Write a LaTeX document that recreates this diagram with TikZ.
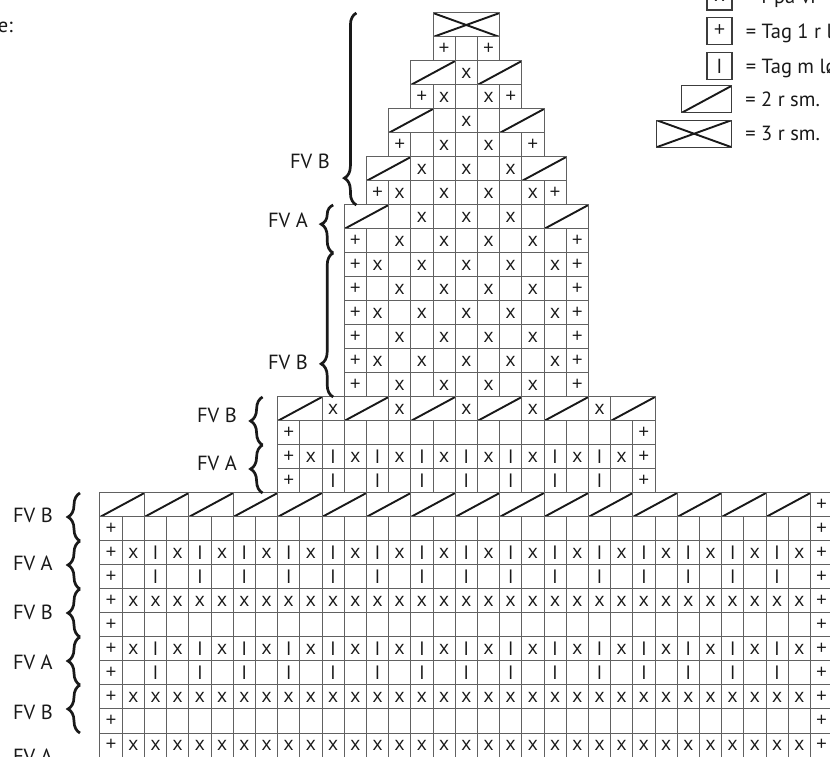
\documentclass[tikz,border=0pt]{standalone}
\usepackage{fontspec}
\setmainfont{PT Sans}
\newfontfamily\symfam{Open Sans}
\usetikzlibrary{positioning,decorations.pathreplacing}

\definecolor{gridgray}{gray}{0.38}
\definecolor{ink}{gray}{0.1}
\newcommand{\chartfont}{\symfam\fontsize{19}{19}\selectfont}
\newcommand{\lblfont}{\fontsize{20.5}{22}\selectfont}

\begin{document}
\begin{tikzpicture}[
  x=22.2pt, y=-24pt,
  slash/.style={path picture={\draw[ink,line width=1.9pt]
      (path picture bounding box.south west) -- (path picture bounding box.north east);}},
  cross/.style={path picture={\draw[ink,line width=1.9pt]
      (path picture bounding box.south west) -- (path picture bounding box.north east)
      (path picture bounding box.north west) -- (path picture bounding box.south east);}},
  cell/.style={draw=gridgray,line width=1pt,minimum width=22.2pt,minimum height=24pt,
               inner sep=0pt,outer sep=0pt,font=\chartfont,text=ink},
  dec2/.style={cell,minimum width=44.4pt,slash},
  dec3/.style={cell,minimum width=66.6pt,cross},
  brc/.style={decorate,decoration={brace,amplitude=12pt},line width=2.7pt,ink},
  fvlabel/.style={font=\lblfont,text=ink,anchor=east,inner sep=0pt,
                  text height=14.3pt,text depth=0pt},
  keybox/.style={draw=ink!85,line width=1.2pt,minimum width=25pt,minimum height=27pt,
                 inner sep=0pt,font=\symfam\fontsize{20}{20}\selectfont,text=ink},
  keytext/.style={font=\lblfont,text=ink,inner sep=0pt,text height=14.3pt,text depth=0pt},
]
\useasboundingbox (-4.5045,-20.5417) rectangle (32.8829,11);
\clip (-4.5045,-20.5417) rectangle (32.8829,11);

% ---- Bottom panel (33 sts) --------------------------------------------------
\foreach \c in {1,3,...,31}
  \node[dec2] (B1-\c) at (\c,0.5) {};
\node[cell] (B1-33) at (32.5,0.5) {+};
\foreach \r in {2,...,11}{
  \node[cell] (B\r-1)  at (0.5,\r-0.5)  {+};
  \node[cell] (B\r-33) at (32.5,\r-0.5) {+};
}
\foreach \r in {2,6,10}
  \foreach \c in {2,...,32}
    \node[cell] (B\r-\c) at (\c-0.5,\r-0.5) {};
\foreach \r in {3,7}{
  \foreach \c in {2,4,...,32} \node[cell] (B\r-\c) at (\c-0.5,\r-0.5) {x};
  \foreach \c in {3,5,...,31} \node[cell] (B\r-\c) at (\c-0.5,\r-0.5) {I};
}
\foreach \r in {4,8}{
  \foreach \c in {2,4,...,32} \node[cell] (B\r-\c) at (\c-0.5,\r-0.5) {};
  \foreach \c in {3,5,...,31} \node[cell] (B\r-\c) at (\c-0.5,\r-0.5) {I};
}
\foreach \r in {5,9,11}
  \foreach \c in {2,...,32}
    \node[cell] (B\r-\c) at (\c-0.5,\r-0.5) {x};

% ---- Middle panel (17 sts) --------------------------------------------------
\foreach \c in {9,12,...,24}
  \node[dec2] (M1-\c) at (\c,-3.5) {};
\foreach \c in {11,14,...,23}
  \node[cell] (M1-\c) at (\c-0.5,-3.5) {x};
\foreach \r in {2,3,4}{
  \node[cell] (M\r-9)  at (8.5,\r-4.5)  {+};
  \node[cell] (M\r-25) at (24.5,\r-4.5) {+};
}
\foreach \c in {10,...,24} \node[cell] (M2-\c) at (\c-0.5,-2.5) {};
\foreach \c in {10,12,...,24} \node[cell] (M3-\c) at (\c-0.5,-1.5) {x};
\foreach \c in {11,13,...,23} \node[cell] (M3-\c) at (\c-0.5,-1.5) {I};
\foreach \c in {10,12,...,24} \node[cell] (M4-\c) at (\c-0.5,-0.5) {};
\foreach \c in {11,13,...,23} \node[cell] (M4-\c) at (\c-0.5,-0.5) {I};

% ---- Upper panel (11 sts) ---------------------------------------------------
\node[dec2] (U1-12) at (12,-11.5) {};
\node[dec2] (U1-21) at (21,-11.5) {};
\foreach \c in {14,16,18,20} \node[cell] (U1-\c) at (\c-0.5,-11.5) {};
\foreach \c in {15,17,19} \node[cell] (U1-\c) at (\c-0.5,-11.5) {x};
\foreach \r in {2,...,8}{
  \node[cell] (U\r-12) at (11.5,\r-12.5) {+};
  \node[cell] (U\r-22) at (21.5,\r-12.5) {+};
}
\foreach \r in {2,4,6,8}{
  \foreach \c in {13,15,...,21} \node[cell] (U\r-\c) at (\c-0.5,\r-12.5) {};
  \foreach \c in {14,16,...,20} \node[cell] (U\r-\c) at (\c-0.5,\r-12.5) {x};
}
\foreach \r in {3,5,7}{
  \foreach \c in {13,15,...,21} \node[cell] (U\r-\c) at (\c-0.5,\r-12.5) {x};
  \foreach \c in {14,16,...,20} \node[cell] (U\r-\c) at (\c-0.5,\r-12.5) {};
}

% ---- Top point --------------------------------------------------------------
% row T8
\node[cell] (T8-13) at (12.5,-12.5) {+};
\node[cell] (T8-21) at (20.5,-12.5) {+};
\foreach \c in {14,16,18,20} \node[cell] (T8-\c) at (\c-0.5,-12.5) {x};
\foreach \c in {15,17,19} \node[cell] (T8-\c) at (\c-0.5,-12.5) {};
% row T7
\node[dec2] (T7-13) at (13,-13.5) {};
\node[dec2] (T7-20) at (20,-13.5) {};
\foreach \c in {15,17,19} \node[cell] (T7-\c) at (\c-0.5,-13.5) {x};
\foreach \c in {16,18} \node[cell] (T7-\c) at (\c-0.5,-13.5) {};
% row T6
\node[cell] (T6-14) at (13.5,-14.5) {+};
\node[cell] (T6-20) at (19.5,-14.5) {+};
\foreach \c in {16,18} \node[cell] (T6-\c) at (\c-0.5,-14.5) {x};
\foreach \c in {15,17,19} \node[cell] (T6-\c) at (\c-0.5,-14.5) {};
% row T5
\node[dec2] (T5-14) at (14,-15.5) {};
\node[dec2] (T5-19) at (19,-15.5) {};
\node[cell] (T5-17) at (16.5,-15.5) {x};
\foreach \c in {16,18} \node[cell] (T5-\c) at (\c-0.5,-15.5) {};
% row T4
\node[cell] (T4-15) at (14.5,-16.5) {+};
\node[cell] (T4-19) at (18.5,-16.5) {+};
\foreach \c in {16,18} \node[cell] (T4-\c) at (\c-0.5,-16.5) {x};
\node[cell] (T4-17) at (16.5,-16.5) {};
% row T3
\node[dec2] (T3-15) at (15,-17.5) {};
\node[dec2] (T3-18) at (18,-17.5) {};
\node[cell] (T3-17) at (16.5,-17.5) {x};
% row T2
\node[cell] (T2-16) at (15.5,-18.5) {+};
\node[cell] (T2-17) at (16.5,-18.5) {};
\node[cell] (T2-18) at (17.5,-18.5) {+};
% row T1
\node[dec3] (T1-16) at (16.5,-19.5) {};

% ---- Braces -----------------------------------------------------------------
\foreach \lo/\hi in {2/1,4/3,6/5,8/7,10/9}
  \draw[brc] ([xshift=-20pt]B\lo-1.south west) -- ([xshift=-20pt]B\hi-1.north west);
\draw[brc] ([xshift=-15pt]M2-9.south west) -- ([xshift=-15pt]M1-9.north west);
\draw[brc] ([xshift=-15pt]M4-9.south west) -- ([xshift=-15pt]M3-9.north west);
\draw[brc,decoration={aspect=0.6}]
  ([xshift=-11pt]U2-12.south west) -- ([xshift=-11pt]U1-12.north west);
\draw[brc,decoration={aspect=0.23}]
  ([xshift=-11pt]U8-12.south west) -- ([xshift=-11pt]U3-12.north west);
\coordinate (Ttop) at (T8-13.west |- T1-16.north);
\draw[brc,decoration={aspect=0.14}]
  ([xshift=-10pt]T8-13.south west) -- ([xshift=-10pt]Ttop);

% ---- Labels -----------------------------------------------------------------
\foreach \i/\y/\t in {1/0.92/FV B,2/2.92/FV A,3/4.96/FV B,4/7.04/FV A,5/9.12/FV B,6/10.96/FV A}
  \node[fvlabel] (botlbl\i) at (-2.12,\y) {\t};
\node[fvlabel] (midlbl1) at (6.17,-3.25) {FV B};
\node[fvlabel] (midlbl2) at (6.17,-1.25) {FV A};
\node[fvlabel] (uplbl1) at (9.37,-11.375) {FV A};
\node[fvlabel] (uplbl2) at (9.37,-5.46) {FV B};
\node[fvlabel] (toplbl) at (10.36,-13.83) {FV B};
\node[fvlabel] (head) at (-3.92,-19.48) {e:};

% ---- Key --------------------------------------------------------------------
\node[keybox] (key-x) at (27.905,-20.69) {x};
\node[keybox] (key-p) at (27.905,-19.25) {+};
\node[keybox] (key-i) at (27.905,-17.79) {I};
\node[keybox,minimum width=50pt,slash] (key-d2) at (27.32,-16.40) {};
\node[keybox,minimum width=75pt,cross] (key-d3) at (26.76,-14.97) {};
\node[keytext,right=13pt of key-x]  (txt-x)  {= r på vr};
\node[keytext,right=13pt of key-p]  (txt-p)  {= Tag 1 r l};
\node[keytext,right=13pt of key-i]  (txt-i)  {= Tag m lø};
\node[keytext,right=13pt of key-d2] (txt-d2) {= 2 r sm.};
\node[keytext,right=13pt of key-d3] (txt-d3) {= 3 r sm.};

\end{tikzpicture}
\end{document}
